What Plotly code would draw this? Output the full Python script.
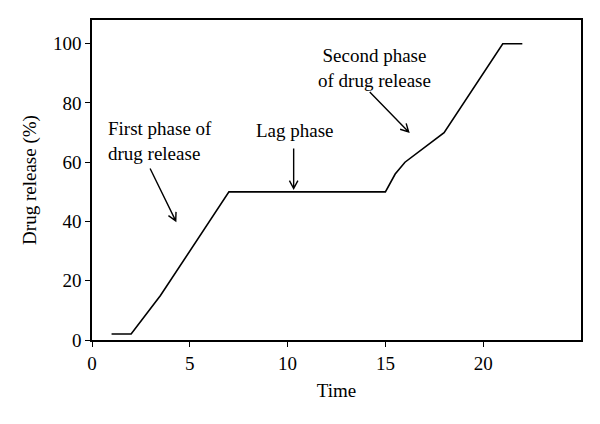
import plotly.graph_objects as go
import math

# Data
time = [1, 2, 3.5, 7, 15, 15.5, 16, 17, 18, 21, 22]
release = [2, 2, 15, 50, 50, 56, 60, 65, 70, 100, 100]

x_ticks = [0, 5, 10, 15, 20]
y_ticks = [0, 20, 40, 60, 80, 100]

# Annotation texts and arrows (data coordinates)
labels = ["First phase of<br>drug release", "Lag phase", "Second phase<br>of drug release"]
label_x = [0.72, 10.39, 14.45]
label_y = [67.0, 70.8, 91.8]
label_anchor = ["left", "center", "center"]
arrow_start = [(2.97, 57.9), (10.31, 64.6), (14.2, 83.7)]
arrow_end = [(4.28, 40.2), (10.31, 51.1), (16.19, 70.2)]

X_RANGE = [0, 25]
Y_RANGE = [0, 108]
# page body has an 8px margin; figure sized to fill the rest of the window
W, H = 592, 416
M = dict(l=84, r=19, t=12, b=84)
pxx = (W - M["l"] - M["r"]) / (X_RANGE[1] - X_RANGE[0])
pxy = (H - M["t"] - M["b"]) / (Y_RANGE[1] - Y_RANGE[0])

fig = go.Figure()
fig.add_trace(go.Scatter(x=time, y=release, mode="lines",
                         line=dict(color="black", width=1.6), showlegend=False))

FONT = "Liberation Serif, Times New Roman, serif"

for t, x, y, a in zip(labels, label_x, label_y, label_anchor):
    fig.add_annotation(x=x, y=y, text=t, showarrow=False, xanchor=a, yanchor="middle",
                       align=a, font=dict(family=FONT, size=19, color="black"))

head_len = 9
head_ang = math.radians(28)
for (x0, y0), (x1, y1) in zip(arrow_start, arrow_end):
    dx = (x1 - x0) * pxx
    dy = (y1 - y0) * pxy
    L = math.hypot(dx, dy)
    ux, uy = dx / L, dy / L
    pts = []
    for s in (1, -1):
        ca, sa = math.cos(s * head_ang), math.sin(s * head_ang)
        rx = -(ux * ca - uy * sa) * head_len
        ry = -(ux * sa + uy * ca) * head_len
        pts.append((x1 + rx / pxx, y1 + ry / pxy))
    path = (f"M {x0},{y0} L {x1},{y1} "
            f"M {pts[0][0]},{pts[0][1]} L {x1},{y1} L {pts[1][0]},{pts[1][1]}")
    fig.add_shape(type="path", path=path, xref="x", yref="y",
                  line=dict(color="black", width=1.4))

axis_common = dict(showgrid=False, zeroline=False, showline=True, linecolor="black",
                   linewidth=1.6, mirror=True, ticks="outside", ticklen=5, tickwidth=1.4,
                   tickcolor="black", automargin=False,
                   tickfont=dict(family=FONT, size=19, color="black"))

fig.update_xaxes(range=X_RANGE, tickvals=x_ticks, title=dict(text="Time", standoff=11,
                 font=dict(family=FONT, size=19, color="black")), **axis_common)
fig.update_yaxes(range=Y_RANGE, tickvals=y_ticks, title=dict(text="Drug release (%)", standoff=11,
                 font=dict(family=FONT, size=19, color="black")), **axis_common)

fig.update_layout(width=W, height=H, margin=M, plot_bgcolor="white", paper_bgcolor="white")
fig.write_html("out.html")
